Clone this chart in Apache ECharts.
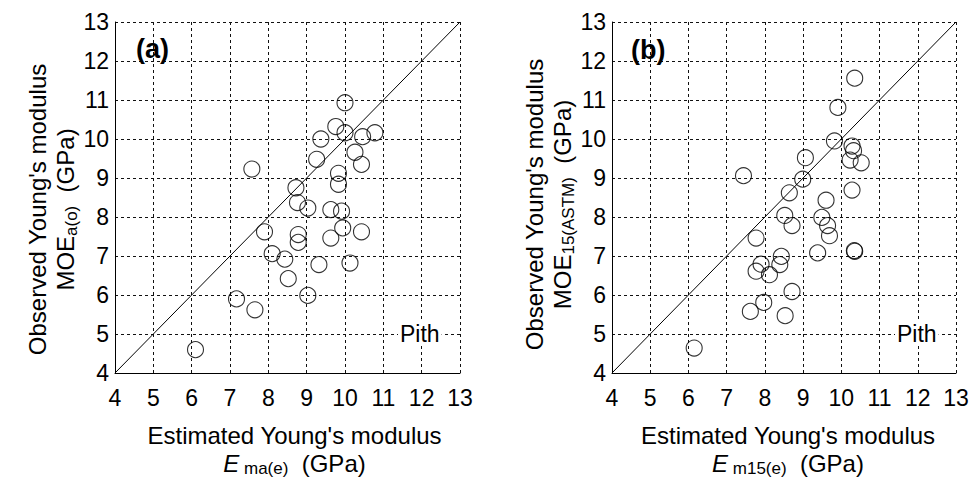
<!DOCTYPE html>
<html>
<head>
<meta charset="utf-8">
<title>Observed vs estimated Young's modulus</title>
<script src="https://cdn.jsdelivr.net/npm/echarts@6/dist/echarts.min.js"></script>
<style>
  html, body { margin: 0; padding: 0; background: #fff; }
  #chart { width: 980px; height: 482px; }
</style>
</head>
<body>
<div id="chart"></div>
<script>
// panel (a): estimated E_ma(e) vs observed MOE_a(o), GPa
var aEst = [10.0, 9.76, 10.0, 9.37, 10.46, 10.78, 10.26, 9.26, 10.43, 7.57, 9.83, 9.83, 8.72, 8.76, 9.03, 9.63,
            9.91, 7.90, 8.78, 8.78, 9.63, 9.94, 10.43, 8.10, 8.43, 9.32, 10.13, 8.52, 9.03, 7.17, 7.65, 6.10];
var aObs = [10.93, 10.32, 10.16, 10.0, 10.06, 10.16, 9.66, 9.48, 9.35, 9.23, 9.12, 8.84, 8.75, 8.37, 8.23, 8.19,
            8.15, 7.62, 7.55, 7.35, 7.46, 7.72, 7.62, 7.06, 6.92, 6.78, 6.82, 6.42, 5.99, 5.90, 5.62, 4.60];

// panel (b): estimated E_m15(e) vs observed MOE_15(ASTM), GPa
var bEst = [10.35, 9.91, 9.82, 10.28, 10.32, 10.23, 10.52, 9.06, 7.44, 8.99, 8.64, 10.28, 9.60, 8.52, 8.71, 7.77,
            9.49, 9.64, 9.69, 9.38, 10.34, 10.35, 8.43, 8.39, 7.90, 7.77, 8.12, 8.71, 7.97, 7.62, 8.53, 6.15];
var bObs = [11.56, 10.81, 9.95, 9.82, 9.70, 9.46, 9.39, 9.52, 9.06, 8.97, 8.62, 8.69, 8.43, 8.04, 7.78, 7.46,
            7.99, 7.78, 7.52, 7.08, 7.14, 7.12, 6.99, 6.78, 6.79, 6.61, 6.52, 6.09, 5.81, 5.58, 5.47, 4.64];

// 1:1 line end points and axis range
var oneToOne = [4, 13];
var axisMin = 4, axisMax = 13, axisStep = 1;

var fontName = 'Liberation Sans, Arial, sans-serif';

function pairs(xs, ys) {
    var out = [];
    for (var i = 0; i < xs.length; i++) {
        out.push([xs[i], ys[i]]);
    }
    return out;
}

var subRich = {
    it: { fontStyle: 'italic', fontSize: 24, fontFamily: fontName, color: '#000', lineHeight: 28 },
    sub: { fontSize: 17, fontFamily: fontName, color: '#000', lineHeight: 10, verticalAlign: 'bottom' }
};

function valueAxis(gridIdx, isX, name, namePad) {
    return {
        type: 'value',
        gridIndex: gridIdx,
        min: axisMin,
        max: axisMax,
        interval: axisStep,
        name: name,
        nameLocation: 'middle',
        nameGap: isX ? 48 : 32,
        nameRotate: isX ? 0 : 90,
        nameTextStyle: {
            fontSize: 24,
            fontFamily: fontName,
            color: '#000',
            lineHeight: 28,
            padding: namePad,
            rich: subRich
        },
        axisLine: { show: true, onZero: false, lineStyle: { color: '#000', width: 1 } },
        axisTick: { show: false },
        axisLabel: {
            margin: isX ? 13 : 6,
            fontSize: 23,
            fontFamily: fontName,
            color: '#000'
        },
        splitLine: {
            show: true,
            lineStyle: { color: '#111', width: 1, type: [3, 3] }
        }
    };
}

var circleStyle = {
    color: 'rgba(0,0,0,0)',
    borderColor: '#000',
    borderWidth: 1.1
};

function scatterSeries(idx, data) {
    return {
        type: 'scatter',
        xAxisIndex: idx,
        yAxisIndex: idx,
        symbol: 'circle',
        symbolSize: 16,
        itemStyle: circleStyle,
        silent: true,
        z: 4,
        data: data
    };
}

function lineSeries(idx) {
    return {
        type: 'line',
        xAxisIndex: idx,
        yAxisIndex: idx,
        showSymbol: false,
        silent: true,
        lineStyle: { color: '#000', width: 1 },
        z: 3,
        data: pairs(oneToOne, oneToOne)
    };
}

var panelLabel = { fontSize: 27, fontWeight: 'bold', fontFamily: fontName, color: '#000' };
var pithLabel = { fontSize: 23, fontWeight: 'normal', fontFamily: fontName, color: '#000' };

var option = {
    animation: false,
    backgroundColor: '#fff',
    title: [
        { text: '(a)', left: 136, top: 35, padding: 0, textStyle: panelLabel },
        { text: '(b)', left: 631, top: 36, padding: 0, textStyle: panelLabel },
        { text: 'Pith', left: 398, top: 322, padding: [0, 2], backgroundColor: '#fff', textStyle: pithLabel },
        { text: 'Pith', left: 895, top: 322, padding: [0, 2], backgroundColor: '#fff', textStyle: pithLabel }
    ],
    grid: [
        { left: 115, top: 22, width: 345, height: 351 },
        { left: 612, top: 22, width: 344, height: 351 }
    ],
    xAxis: [
        valueAxis(0, true, "Estimated Young's modulus\n{it|E}{sub| ma(e)}  (GPa)", [0, 0, 0, 14]),
        valueAxis(1, true, "Estimated Young's modulus\n{it|E}{sub| m15(e)}  (GPa)", [0, 0, 0, 8])
    ],
    yAxis: [
        valueAxis(0, false, "Observed Young's modulus\nMOE{sub|a(o)}  (GPa)", [0, 24, 0, 0]),
        valueAxis(1, false, "Observed Young's modulus\nMOE{sub|15(ASTM)}  (GPa)", [0, 14, 0, 0])
    ],
    series: [
        lineSeries(0),
        scatterSeries(0, pairs(aEst, aObs)),
        lineSeries(1),
        scatterSeries(1, pairs(bEst, bObs))
    ]
};

var chart = echarts.init(document.getElementById('chart'), null, { renderer: 'svg' });
chart.setOption(option);
</script>
</body>
</html>
